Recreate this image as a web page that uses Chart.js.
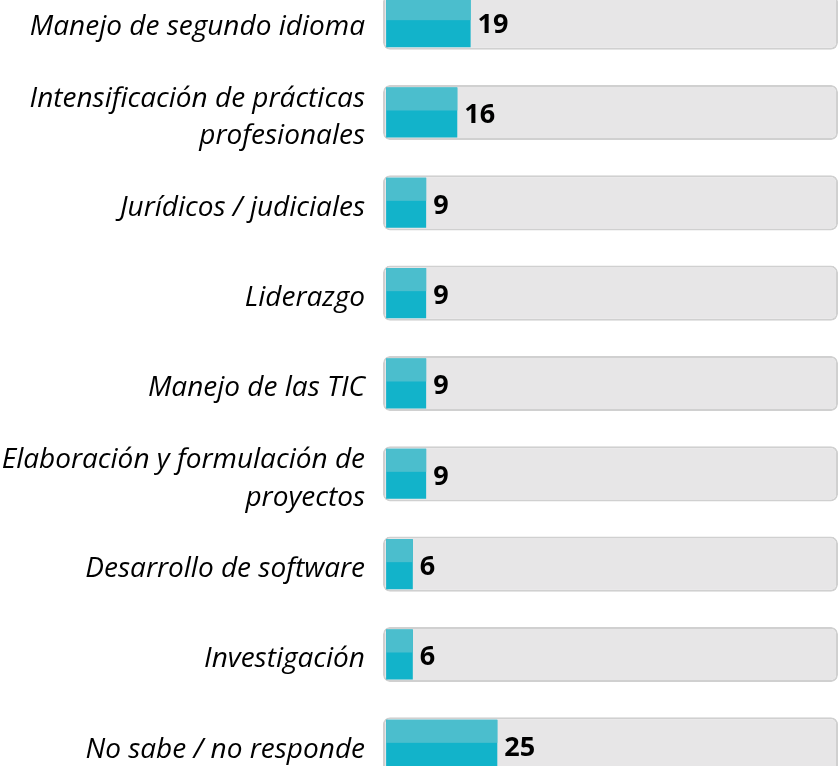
<!DOCTYPE html>
<html>
<head>
<meta charset="utf-8">
<script src="https://cdn.jsdelivr.net/npm/chart.js@4"></script>
<style>
  html, body { margin: 0; padding: 0; background: #fff; overflow: hidden; }
  #wrap { position: absolute; left: 0; top: -23px; width: 838px; height: 813px; }
</style>
</head>
<body>
<div id="wrap"><canvas id="mycanvas"></canvas></div>
<script>
const categories = [
    'Manejo de segundo idioma',
    ['Intensificación de prácticas', 'profesionales'],
    'Jurídicos / judiciales',
    'Liderazgo',
    'Manejo de las TIC',
    ['Elaboración y formulación de', 'proyectos'],
    'Desarrollo de software',
    'Investigación',
    'No sabe / no responde'
];
const values = [19, 16, 9, 9, 9, 9, 6, 6, 25];
const xMin = -0.7;
const xMax = 101.6;

function createChart() {
    const ctx = document.getElementById('mycanvas').getContext('2d');

    // lighter upper half of each teal bar
    const twoTone = {
        id: 'twoTone',
        afterDatasetsDraw: chart => {
            const c = chart.ctx;
            const meta = chart.getDatasetMeta(1);
            c.save();
            c.fillStyle = '#4bbecd';
            meta.data.forEach(bar => {
                const top = bar.y - bar.height / 2;
                c.fillRect(bar.base, top, bar.x - bar.base, bar.height * 0.46);
            });
            c.restore();
        }
    }

    // value labels at the bar ends
    const valueLabels = {
        id: 'valueLabels',
        afterDatasetsDraw: chart => {
            const c = chart.ctx;
            const meta = chart.getDatasetMeta(1);
            c.save();
            c.font = 'bold 27px "Open Sans"';
            c.fillStyle = '#000';
            c.textAlign = 'left';
            c.textBaseline = 'middle';
            meta.data.forEach((bar, i) => {
                c.fillText(values[i], bar.x + 7, bar.y + 3);
            });
            c.restore();
        }
    }

    new Chart(ctx, {
        type: 'bar',
        data: {
            labels: categories,
            datasets: [{
                data: values.map(() => [xMin, xMax]),
                backgroundColor: '#e7e6e7',
                borderColor: '#d0d0d0',
                borderWidth: 2,
                borderRadius: 7,
                borderSkipped: false,
                barPercentage: 0.61,
                categoryPercentage: 1,
                grouped: false,
                order: 2,
            },
            {
                data: values,
                backgroundColor: '#12b3ca',
                borderWidth: 0,
                barPercentage: 0.554,
                categoryPercentage: 1,
                grouped: false,
                order: 1,
            }]
        },
        options: {
            indexAxis: 'y',
            responsive: true,
            maintainAspectRatio: false,
            animation: false,
            layout: { padding: 0 },
            plugins: {
                legend: { display: false },
                tooltip: { enabled: false },
            },
            scales: {
                x: {
                    display: false,
                    min: xMin,
                    max: xMax,
                },
                y: {
                    border: { display: false },
                    grid: { display: false, drawTicks: false },
                    ticks: {
                        color: '#000',
                        padding: 18,
                        labelOffset: 5,
                        font: { family: 'Open Sans', style: 'italic', size: 28, lineHeight: 1.35 },
                    },
                    afterFit: scale => {
                        scale.width = 383;
                        scale.paddingTop = 0;
                        scale.paddingBottom = 0;
                    },
                },
            },
        },
        plugins: [twoTone, valueLabels],
    });
}

createChart();
</script>
</body>
</html>
